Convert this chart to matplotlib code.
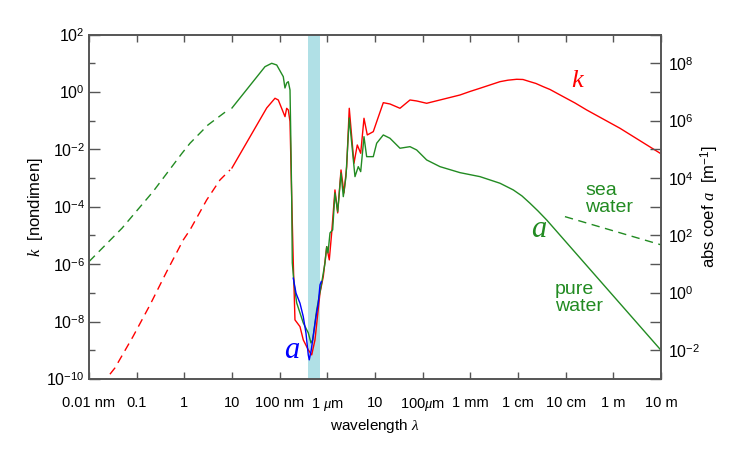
import numpy as np
import matplotlib
matplotlib.use("Agg")
import matplotlib.pyplot as plt
from matplotlib.ticker import FixedLocator, NullFormatter

plt.rcParams['font.family'] = ['Liberation Sans', 'DejaVu Sans']
plt.rcParams['mathtext.fontset'] = 'custom'
plt.rcParams['mathtext.rm'] = 'Liberation Sans'
plt.rcParams['mathtext.it'] = 'Liberation Serif:italic'

# all values are log10 exponents: wavelength in m, k dimensionless, a in 1/m

# k (left axis), x-ray extrapolation (dashed)
k_xray_lam = [-10.75, -10.643, -10.455, -10.077, -9.720, -9.370, -9.022, -8.881, -8.531, -8.252, -8.042]
k_xray_val = [-10.2, -10.006, -9.612, -8.522, -7.418, -6.259, -5.155, -4.807, -3.763, -3.066, -2.718]

# k measured
k_lam = [-8.0, -7.272, -7.098, -7.029, -6.888, -6.853, -6.819, -6.783, -6.748, -6.714, -6.679,
         -6.574, -6.505, -6.400, -6.328, -6.259, -6.154, -6.085, -6.013, -5.959, -5.909, -5.840,
         -5.783, -5.713, -5.651, -5.594, -5.540, -5.441, -5.372, -5.300, -5.231, -5.162, -5.036,
         -4.952, -4.826, -4.686, -4.476, -4.266, -4.126, -3.916, -3.637, -3.427, -3.217, -3.008,
         -2.798, -2.588, -2.378, -2.210, -2.028, -1.896, -1.749, -1.623, -1.470, -1.329, -1.050,
         -0.805, -0.559, 0.139, 1.006]
k_val = [-2.648, -0.559, -0.221, -0.281, -0.862, -0.570, -0.629, -1.036, -3.648, -5.956, -7.941,
         -8.174, -8.637, -8.985, -9.160, -8.637, -7.001, -6.433, -5.389, -5.852, -4.912, -3.414,
         -4.215, -2.718, -3.519, -2.603, -0.570, -2.485, -1.848, -2.137, -0.918, -1.499, -1.384,
         -0.977, -0.375, -0.420, -0.570, -0.281, -0.315, -0.396, -0.281, -0.194, -0.107, 0.015,
         0.127, 0.242, 0.357, 0.409, 0.440, 0.433, 0.357, 0.294, 0.182, 0.085, -0.166,
         -0.385, -0.629, -1.266, -2.161]

# a (right axis), x-ray extrapolation (dashed)
a_xray_lam = [-11.0, -10.308, -9.657, -9.049, -8.881, -8.504, -8.084]
a_xray_val = [1.089, 2.252, 3.526, 4.863, 5.212, 5.849, 6.371]

# a pure water
a_lam = [-8.0, -7.308, -7.167, -7.062, -6.924, -6.889, -6.853, -6.819, -6.783, -6.769, -6.748,
         -6.735, -6.700, -6.643, -6.505, -6.400, -6.343, -6.307, -6.223, -6.119, -6.049, -6.013,
         -5.986, -5.944, -5.888, -5.840, -5.783, -5.713, -5.665, -5.609, -5.540, -5.420, -5.351,
         -5.300, -5.231, -5.175, -5.036, -4.965, -4.826, -4.686, -4.476, -4.266, -4.126, -3.916,
         -3.637, -3.217, -2.798, -2.378, -2.099, -1.917, -1.749, -1.581, -1.399, 1.006]
a_val = [6.441, 7.879, 7.997, 7.938, 7.531, 7.137, 7.311, 7.357, 7.068, 5.675, 3.352,
         1.044, 0.347, -0.349, -1.045, -1.393, -1.742, -1.637, -0.593, 0.347, 1.044, 1.611,
         1.392, 2.088, 2.193, 3.481, 2.830, 4.178, 3.352, 4.049, 6.093, 4.049, 4.397,
         4.223, 5.441, 4.745, 4.745, 5.212, 5.501, 5.386, 5.038, 5.093, 4.978, 4.630,
         4.397, 4.188, 4.049, 3.819, 3.586, 3.377, 3.123, 2.854, 2.541, -2.010]

# a sea water (dashed)
sea_lam = [-1.015, 1.006]
sea_val = [2.656, 1.671]

# a visible, second data set (blue)
vis_lam = [-6.714, -6.657, -6.574, -6.505, -6.448, -6.400, -6.379, -6.337, -6.238, -6.190, -6.154, -6.127]
vis_val = [0.511, -0.011, -0.359, -0.826, -1.404, -2.160, -2.333, -1.985, -0.826, -0.359, 0.278, 0.393]

visible_band = [3.9e-7, 7.0e-7]

x_exps = list(range(-11, 2))
x_labels = ['0.01 nm', '0.1', '1', '10', '100 nm', r'1 $\mu$m', '10', r'100$\mu$m',
            '1 mm', '1 cm', '10 cm', '1 m', '10 m']

red = '#ff0000'
green = '#228b22'
blue = '#0000ff'
spine_col = '#555555'


def p(v):
    return 10.0 ** np.array(v)


fig = plt.figure(figsize=(7.5, 4.5), dpi=100)
ax = fig.add_axes([89 / 750, 71 / 450, 572 / 750, 344.5 / 450])
ax2 = ax.twinx()

ax.set_xscale('log')
ax.set_yscale('log')
ax2.set_yscale('log')
ax.set_xlim(1e-11, 1e1)
ax.set_ylim(1e-10, 1e2)
ax2.set_ylim(1e-3, 1e9)

ax.axvspan(visible_band[0], visible_band[1], color='#b0e0e6', lw=0, zorder=0)

ax.plot(p(k_xray_lam), p(k_xray_val), color=red, lw=1.0, dashes=(6, 4))
ax.plot(p(k_lam), p(k_val), color=red, lw=1.0)
ax2.plot(p(a_xray_lam), p(a_xray_val), color=green, lw=1.0, dashes=(6, 4))
ax2.plot(p(a_lam), p(a_val), color=green, lw=1.0)
ax2.plot(p(sea_lam), p(sea_val), color=green, lw=1.0, dashes=(6, 4))
ax2.plot(p(vis_lam), p(vis_val), color=blue, lw=1.0)

# x ticks
ax.xaxis.set_major_locator(FixedLocator([10.0 ** e for e in x_exps]))
ax.xaxis.set_minor_locator(FixedLocator([]))
ax.set_xticklabels(x_labels)
ax.tick_params(axis='x', which='major', direction='in', length=5, width=1, color=spine_col,
               top=True, labelsize=10.5, pad=12)

# left y ticks
ax.yaxis.set_major_locator(FixedLocator([10.0 ** e for e in range(-10, 3, 2)]))
ax.yaxis.set_minor_locator(FixedLocator([10.0 ** e for e in range(-9, 2, 2)]))
ax.yaxis.set_minor_formatter(NullFormatter())
ax.set_yticklabels([r'$10^{%d}$' % e for e in range(-10, 3, 2)])
ax.tick_params(axis='y', which='major', direction='in', length=8, width=1, color=spine_col,
               labelsize=11.5, pad=3, right=False)
ax.tick_params(axis='y', which='minor', direction='in', length=4, width=1, color=spine_col, right=False)

# right y ticks
ax2.yaxis.set_major_locator(FixedLocator([10.0 ** e for e in range(-3, 10)]))
ax2.yaxis.set_minor_locator(FixedLocator([]))
ax2.set_yticklabels([r'$10^{%d}$' % e if e % 2 == 0 else '' for e in range(-3, 10)])
ax2.tick_params(axis='y', which='major', direction='in', length=8, width=1, color=spine_col,
                labelsize=11.5, pad=5)

for a_ in (ax, ax2):
    for s in a_.spines.values():
        s.set_color(spine_col)
        s.set_linewidth(1.2)

ax.set_xlabel(r'wavelength $\lambda$', fontsize=11, labelpad=3)
ax.set_ylabel(r'$k$  [nondimen]', fontsize=12, labelpad=1)
ax2.set_ylabel(r'abs coef $a$  [m$^{-1}$]', fontsize=12, labelpad=-1)

# labels on the curves
fig.text(577 / 750, 1 - 81 / 450, 'k', color=red, fontsize=19, family='Liberation Serif',
         style='italic', ha='center', va='center')
fig.text(539 / 750, 1 - 230 / 450, 'a', color=green, fontsize=22, family='Liberation Serif',
         style='italic', ha='center', va='center')
fig.text(292 / 750, 1 - 351 / 450, 'a', color=blue, fontsize=22, family='Liberation Serif',
         style='italic', ha='center', va='center')
fig.text(585 / 750, 1 - 199 / 450, 'sea\nwater', color=green, fontsize=14, ha='left',
         va='center', linespacing=1.0)
fig.text(555 / 750, 1 - 298 / 450, 'pure\nwater', color=green, fontsize=14, ha='left',
         va='center', linespacing=1.0)

fig.savefig('out.png', dpi=100)
